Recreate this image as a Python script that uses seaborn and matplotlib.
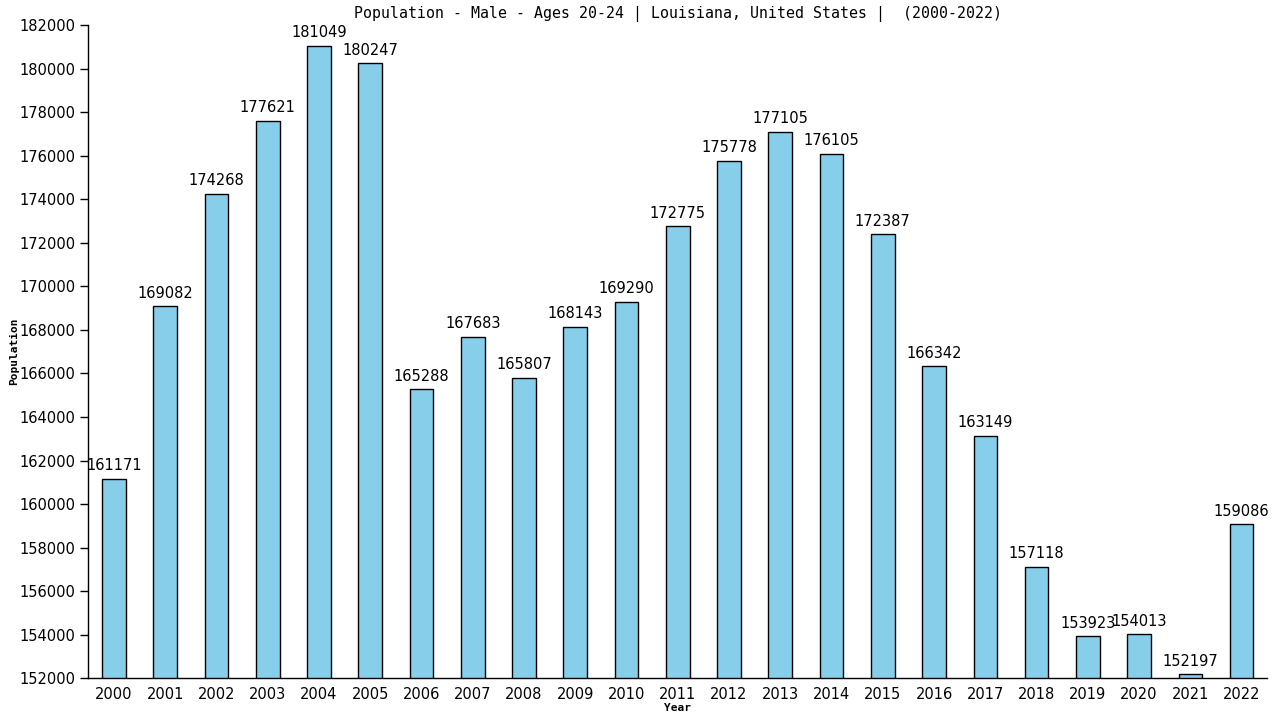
import numpy as np
from matplotlib import pyplot as plt
import seaborn as sns
import pandas as pd

years = [str(y) for y in range(2000, 2023)]
population = [161171, 169082, 174268, 177621, 181049, 180247, 165288, 167683,
              165807, 168143, 169290, 172775, 175778, 177105, 176105, 172387,
              166342, 163149, 157118, 153923, 154013, 152197, 159086]

df = pd.DataFrame({'Year': years, 'Population': population})

sns.set_style('white')
plt.rcParams['font.family'] = ['DejaVu Sans']
plt.rcParams['text.color'] = 'black'
plt.rcParams['axes.labelcolor'] = 'black'
plt.rcParams['xtick.color'] = 'black'
plt.rcParams['ytick.color'] = 'black'

fig = plt.figure(figsize=(12.8, 7.2), dpi=100)
ax = fig.add_axes([0.069, 0.058, 0.921, 0.907])
sns.barplot(data=df, x='Year', y='Population', color='#87CEEB',
            edgecolor='black', linewidth=1.0, width=0.46, saturation=1, ax=ax)

# value labels over each bar
for i, v in enumerate(population):
    ax.text(i, v + 250, str(v), ha='center', va='bottom', fontsize=10.5)

ax.set_ylim(152000, 182000)
ax.set_xlim(-0.5, 22.5)
ax.set_yticks(np.arange(152000, 182001, 2000))
ax.tick_params(axis='y', direction='out', length=6, width=1, labelsize=10.5, left=True)
ax.tick_params(axis='x', length=0, labelsize=10.5, pad=6)
for s in ['top', 'right']:
    ax.spines[s].set_visible(False)
for s in ['left', 'bottom']:
    ax.spines[s].set_color('black')
    ax.spines[s].set_linewidth(1)

ax.set_xlabel('Year', fontsize=8, fontweight='bold', family='DejaVu Sans Mono', labelpad=1)
ax.set_ylabel('Population', fontsize=8, fontweight='bold', family='DejaVu Sans Mono', labelpad=0)
ax.set_title('Population - Male - Ages 20-24 | Louisiana, United States |  (2000-2022)',
             fontsize=10.7, pad=5, family='DejaVu Sans Mono')

fig.savefig('out.png', dpi=100)
